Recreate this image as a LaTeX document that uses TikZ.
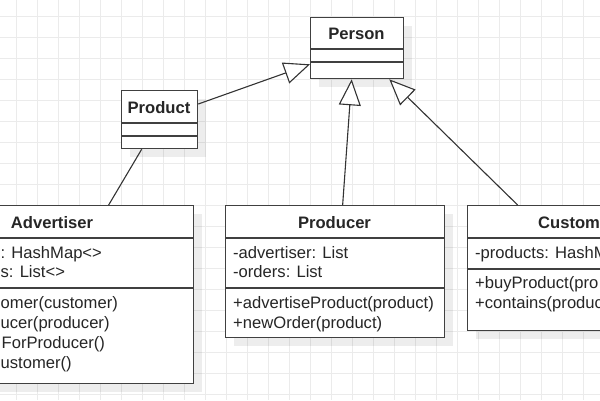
\documentclass[tikz,border=0pt]{standalone}
\usepackage{fontspec}
\setmainfont{Liberation Sans}
\usetikzlibrary{arrows.meta,calc,shadows}

\tikzset{
  gridline/.style={draw=black!8, line width=0.8pt},
  classbox/.style={draw=black!75, line width=1.3pt, fill=white, anchor=north west,
    inner sep=0pt, drop shadow={shadow xshift=8pt, shadow yshift=-8pt, fill=black, opacity=0.07}},
  divider/.style={draw=black!75, line width=1.3pt},
  title/.style={font=\fontsize{16.6}{20}\selectfont\bfseries, text=black!85,
    inner sep=0pt, text height=12pt, text depth=0pt},
  member/.style={font=\fontsize{16.6}{20}\selectfont, text=black!85, anchor=west,
    inner sep=0pt, text height=12pt, text depth=0pt},
  inherit/.style={draw=black!80, line width=1.1pt,
    -{Triangle[length=26pt, width=22pt, fill=white, line width=1.1pt]}},
  assoc/.style={draw=black!80, line width=1.1pt},
}

\begin{document}
\begin{tikzpicture}[x=1pt, y=-1pt]
  \useasboundingbox (0,0) rectangle (600,400);
  \clip (0,0) rectangle (600,400);

  % background grid
  \foreach \k in {0,...,27}
    \draw[gridline] ({16.7+21*\k},0) -- ({16.7+21*\k},400);
  \foreach \k in {0,...,18}
    \draw[gridline] (0,{16.7+21*\k}) -- (600,{16.7+21*\k});

  % Person
  \node[classbox, minimum width=93pt, minimum height=61pt] (person) at (310,17) {};
  \node[title] (personT) at (356.5,33) {Person};
  \draw[divider] (310,49) -- (403,49);
  \draw[divider] (310,62) -- (403,62);

  % Product
  \node[classbox, minimum width=76pt, minimum height=58pt] (product) at (121,90) {};
  \node[title] (productT) at (159,107) {Product};
  \draw[divider] (121,123) -- (197,123);
  \draw[divider] (121,136) -- (197,136);

  % Advertiser
  \node[classbox, minimum width=282pt, minimum height=178pt] (advertiser) at (-89,205) {};
  \node[title] (advertiserT) at (52,222) {Advertiser};
  \draw[divider] (-89,238) -- (193,238);
  \draw[divider] (-89,288) -- (193,288);
  \node[member] (adv1) at (0.5,252) {: HashMap<>};
  \node[member] (adv2) at (0.5,271) {s: List<>};
  \node[member] (adv3) at (0.5,302) {omer(customer)};
  \node[member] (adv4) at (0.5,322) {ucer(producer)};
  \node[member] (adv5) at (1.5,342) {ForProducer()};
  \node[member] (adv6) at (0.5,362) {ustomer()};

  % Producer
  \node[classbox, minimum width=219pt, minimum height=132pt] (producer) at (225,205) {};
  \node[title] (producerT) at (334.5,222) {Producer};
  \draw[divider] (225,238) -- (444,238);
  \draw[divider] (225,288) -- (444,288);
  \node[member] (prod1) at (233,252) {-advertiser: List};
  \node[member] (prod2) at (233,271) {-orders: List};
  \node[member] (prod3) at (233,302) {+advertiseProduct(product)};
  \node[member] (prod4) at (233,322) {+newOrder(product)};

  % Customer
  \node[classbox, minimum width=220pt, minimum height=125pt] (customer) at (467,205) {};
  \node[title, anchor=west] (customerT) at (538,222) {Custom};
  \draw[divider] (467,238) -- (687,238);
  \draw[divider] (467,269) -- (687,269);
  \node[member] (cust1) at (475,252) {-products: HashM};
  \node[member] (cust2) at (475,282) {+buyProduct(pro};
  \node[member] (cust3) at (475,302) {+contains(produc};

  % relations
  \draw[inherit] ($(product.north east)+(0,14)$) -- ($(person.south west)+(0,-15)$);
  \draw[inherit] ($(producer.north)+(7.5,0)$) -- ($(person.south)+(-5.5,0)$);
  \draw[inherit] ($(customer.north)+(-60,0)$) -- ($(person.south east)+(-15,0)$);
  \draw[assoc] ($(advertiser.north)+(56,0)$) -- ($(product.south)+(-18,0)$);
\end{tikzpicture}
\end{document}
